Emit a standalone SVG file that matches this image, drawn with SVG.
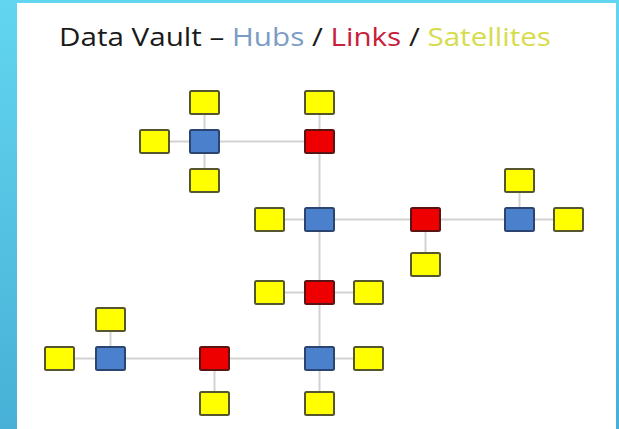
<svg xmlns="http://www.w3.org/2000/svg" width="619" height="429" viewBox="0 0 619 429">
  <defs>
    <linearGradient id="bg" x1="0" y1="0" x2="0" y2="1">
      <stop offset="0" stop-color="#62d6f0"/>
      <stop offset="1" stop-color="#48b0d6"/>
    </linearGradient>
  </defs>
  <style>
    .sat { fill: #ffff00; stroke: #55552e; stroke-width: 2; }
    .hub { fill: #4a80cc; stroke: #2c4470; stroke-width: 2; }
    .link { fill: #ee0000; stroke: #5a1414; stroke-width: 2; }
    .conn line { stroke: #d2d2d2; stroke-width: 2; }
    .title { font-family: "Open Sans", "Liberation Sans", sans-serif; font-size: 25px; }
  </style>
  <rect x="0" y="0" width="619" height="429" fill="url(#bg)"/>
  <rect x="17" y="3" width="599" height="426" fill="#ffffff"/>

  <text class="title" x="59" y="46" textLength="492" lengthAdjust="spacingAndGlyphs"><tspan fill="#1a1a1a">Data Vault – </tspan><tspan fill="#7b9cc4">Hubs</tspan><tspan fill="#1a1a1a"> / </tspan><tspan fill="#c8203a">Links</tspan><tspan fill="#1a1a1a"> / </tspan><tspan fill="#d6dc4c">Satellites</tspan></text>

  <g id="connectors" class="conn">
    <line x1="204.5" y1="102.5" x2="204.5" y2="180.5"/>
    <line x1="154.5" y1="141.5" x2="319.5" y2="141.5"/>
    <line x1="319.5" y1="102.5" x2="319.5" y2="403.5"/>
    <line x1="269.5" y1="219.5" x2="568.5" y2="219.5"/>
    <line x1="425.5" y1="219.5" x2="425.5" y2="264.5"/>
    <line x1="519.5" y1="180.5" x2="519.5" y2="219.5"/>
    <line x1="269.5" y1="292.5" x2="368.5" y2="292.5"/>
    <line x1="59.5" y1="358.5" x2="368.5" y2="358.5"/>
    <line x1="110.5" y1="319.5" x2="110.5" y2="358.5"/>
    <line x1="214.5" y1="358.5" x2="214.5" y2="403.5"/>
  </g>

  <g id="s1"><rect class="sat" x="190" y="91" width="29" height="23" rx="1.5"/></g>
  <g id="s2"><rect class="sat" x="140" y="130" width="29" height="23" rx="1.5"/></g>
  <g id="s3"><rect class="sat" x="190" y="169" width="29" height="23" rx="1.5"/></g>
  <g id="s4"><rect class="sat" x="305" y="91" width="29" height="23" rx="1.5"/></g>
  <g id="s5"><rect class="sat" x="255" y="208" width="29" height="23" rx="1.5"/></g>
  <g id="s6"><rect class="sat" x="411" y="253" width="29" height="23" rx="1.5"/></g>
  <g id="s7"><rect class="sat" x="505" y="169" width="29" height="23" rx="1.5"/></g>
  <g id="s8"><rect class="sat" x="554" y="208" width="29" height="23" rx="1.5"/></g>
  <g id="s9"><rect class="sat" x="255" y="281" width="29" height="23" rx="1.5"/></g>
  <g id="s10"><rect class="sat" x="354" y="281" width="29" height="23" rx="1.5"/></g>
  <g id="s11"><rect class="sat" x="96" y="308" width="29" height="23" rx="1.5"/></g>
  <g id="s12"><rect class="sat" x="45" y="347" width="29" height="23" rx="1.5"/></g>
  <g id="s13"><rect class="sat" x="200" y="392" width="29" height="23" rx="1.5"/></g>
  <g id="s14"><rect class="sat" x="354" y="347" width="29" height="23" rx="1.5"/></g>
  <g id="s15"><rect class="sat" x="305" y="392" width="29" height="23" rx="1.5"/></g>

  <g id="h1"><rect class="hub" x="190" y="130" width="29" height="23" rx="1.5"/></g>
  <g id="h2"><rect class="hub" x="305" y="208" width="29" height="23" rx="1.5"/></g>
  <g id="h3"><rect class="hub" x="505" y="208" width="29" height="23" rx="1.5"/></g>
  <g id="h4"><rect class="hub" x="305" y="347" width="29" height="23" rx="1.5"/></g>
  <g id="h5"><rect class="hub" x="96" y="347" width="29" height="23" rx="1.5"/></g>

  <g id="l1"><rect class="link" x="305" y="130" width="29" height="23" rx="1.5"/></g>
  <g id="l2"><rect class="link" x="411" y="208" width="29" height="23" rx="1.5"/></g>
  <g id="l3"><rect class="link" x="305" y="281" width="29" height="23" rx="1.5"/></g>
  <g id="l4"><rect class="link" x="200" y="347" width="29" height="23" rx="1.5"/></g>
</svg>
